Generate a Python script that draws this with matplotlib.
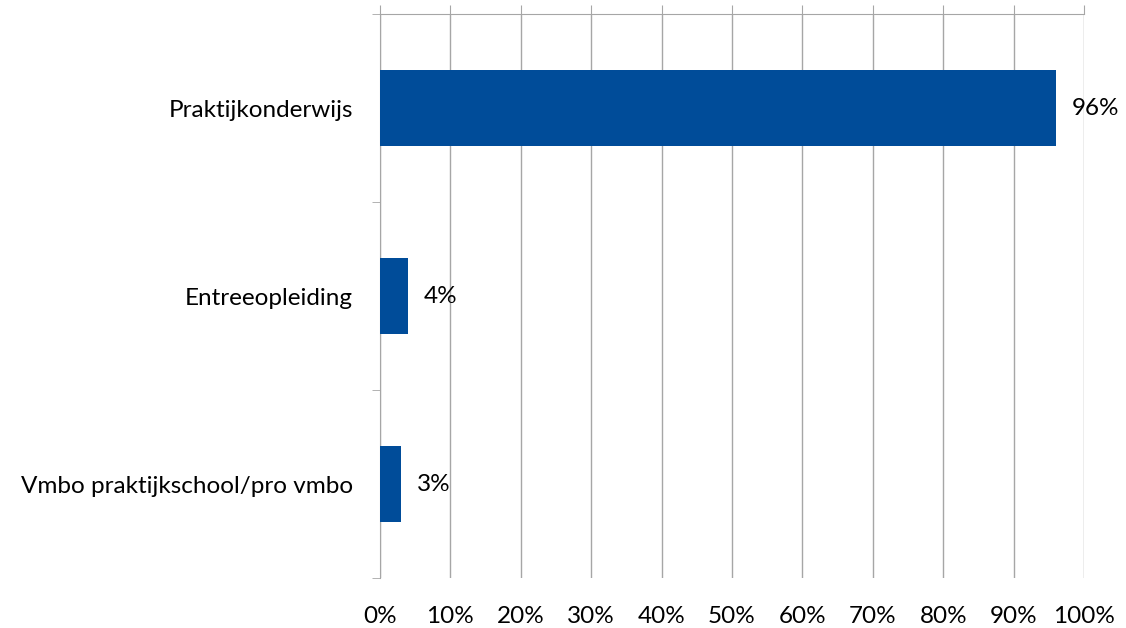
import matplotlib.pyplot as plt
import numpy as np

categories = ["Praktijkonderwijs", "Entreeopleiding", "Vmbo praktijkschool/pro vmbo"]
values = [96, 4, 3]
xticks = list(range(0, 101, 10))

plt.rcParams['font.family'] = ['Lato', 'DejaVu Sans']
fig = plt.figure(figsize=(11.26, 6.28), dpi=100)
ax = fig.add_axes([380/1126, 1-578/628, 704/1126, 564/628])

grey = '#A6A6A6'
fs = 17.5
pos = np.arange(len(categories))
ax.barh(pos, values, height=0.4, color='#004C99', zorder=3)
for p, v in zip(pos, values):
    ax.text(v + 2.2, p, f"{v}%", va='center', ha='left', fontsize=fs)

ax.set_xlim(0, 100)
ax.set_ylim(len(categories) - 0.5, -0.5)
ax.set_xticks(xticks)
ax.set_xticklabels([f"{t}%" for t in xticks])
ax.grid(axis='x', color=grey, linewidth=1, zorder=0)

# x axis line on top, labels at the bottom (excel style)
for s in ['bottom', 'right']:
    ax.spines[s].set_visible(False)
ax.spines['top'].set_color(grey)
ax.spines['left'].set_color(grey)
ax.tick_params(axis='x', top=True, bottom=False, labeltop=False, labelbottom=True,
               direction='out', length=6.5, color=grey, labelsize=fs, pad=14)

ax.set_yticks(pos)
ax.set_yticklabels(categories)
ax.set_yticks(np.arange(-0.5, len(categories)), minor=True)
ax.tick_params(axis='y', which='major', length=0, labelsize=fs, pad=19.4)
ax.tick_params(axis='y', which='minor', length=5.8, color=grey)

fig.savefig('out.png', dpi=100)
